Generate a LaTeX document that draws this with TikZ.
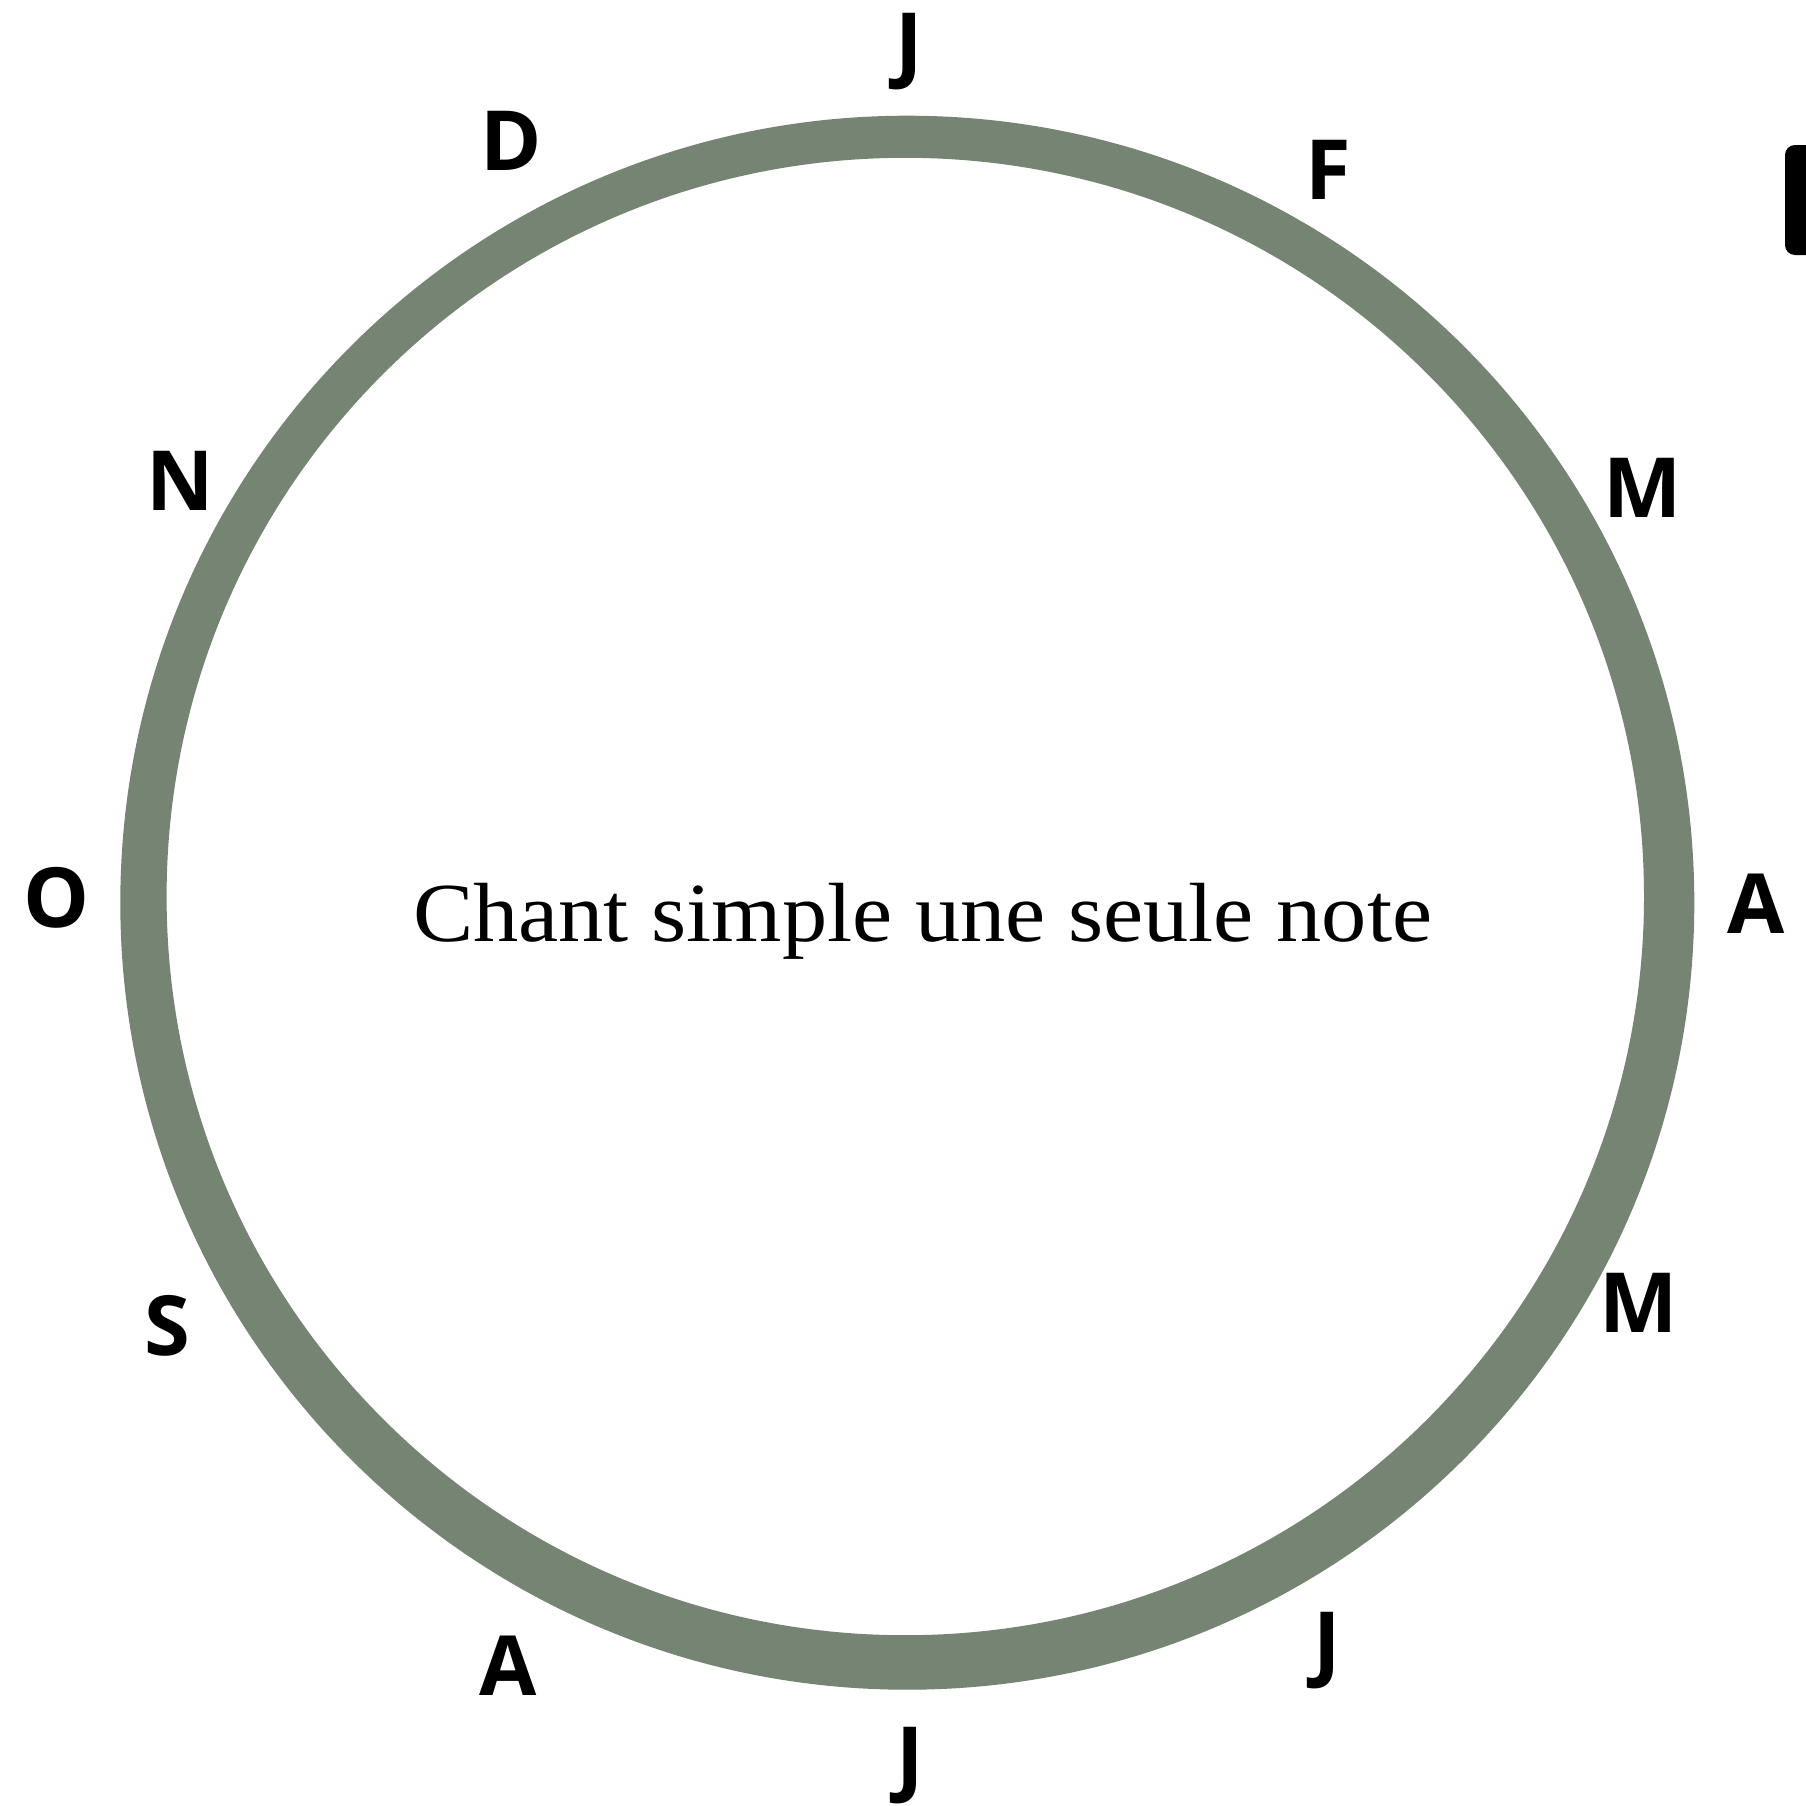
\documentclass[tikz,border=0pt]{standalone}
\usepackage{fontspec}
\setmainfont{Liberation Serif}
\newfontfamily\lettersfont{Open Sans}
\definecolor{ringgreen}{RGB}{118,132,115}
\begin{document}
\begin{tikzpicture}[x=1pt,y=-1pt,
  lbl/.style={font=\lettersfont\bfseries\fontsize{83}{83}\selectfont, anchor=base, inner sep=0pt},
  titletext/.style={font=\fontsize{84}{84}\selectfont, anchor=base, inner sep=0pt}]
\useasboundingbox (0,0) rectangle (1806,1805);
\clip (0,0) rectangle (1806,1805);
\fill[white] (0,0) rectangle (1806,1805);
\fill[ringgreen, even odd rule] (907.3,902.7) circle (787pt) (905.3,896.5) circle (738.7pt);
\fill[black, rounded corners=10pt] (1785,145) rectangle (1840,255);
\node[titletext] (title) at (922.6,941) {\scalebox{1.076}[1]{Chant simple une seule note}};
\node[lbl] (jan) at (909,72.6) {J};
\node[lbl] (feb) at (1328,199) {F};
\node[lbl] (mar) at (1643,517) {M};
\node[lbl] (apr) at (1756,933) {A};
\node[lbl] (may) at (1639,1332.6) {M};
\node[lbl] (jun) at (1327,1671) {J};
\node[lbl] (jul) at (910,1786) {J};
\node[lbl] (aug) at (508.5,1695.5) {A};
\node[lbl] (sep) at (167,1355.6) {S};
\node[lbl] (oct) at (57,927.5) {O};
\node[lbl] (nov) at (180,510) {N};
\node[lbl] (dec) at (511,170.5) {D};
\end{tikzpicture}
\end{document}
